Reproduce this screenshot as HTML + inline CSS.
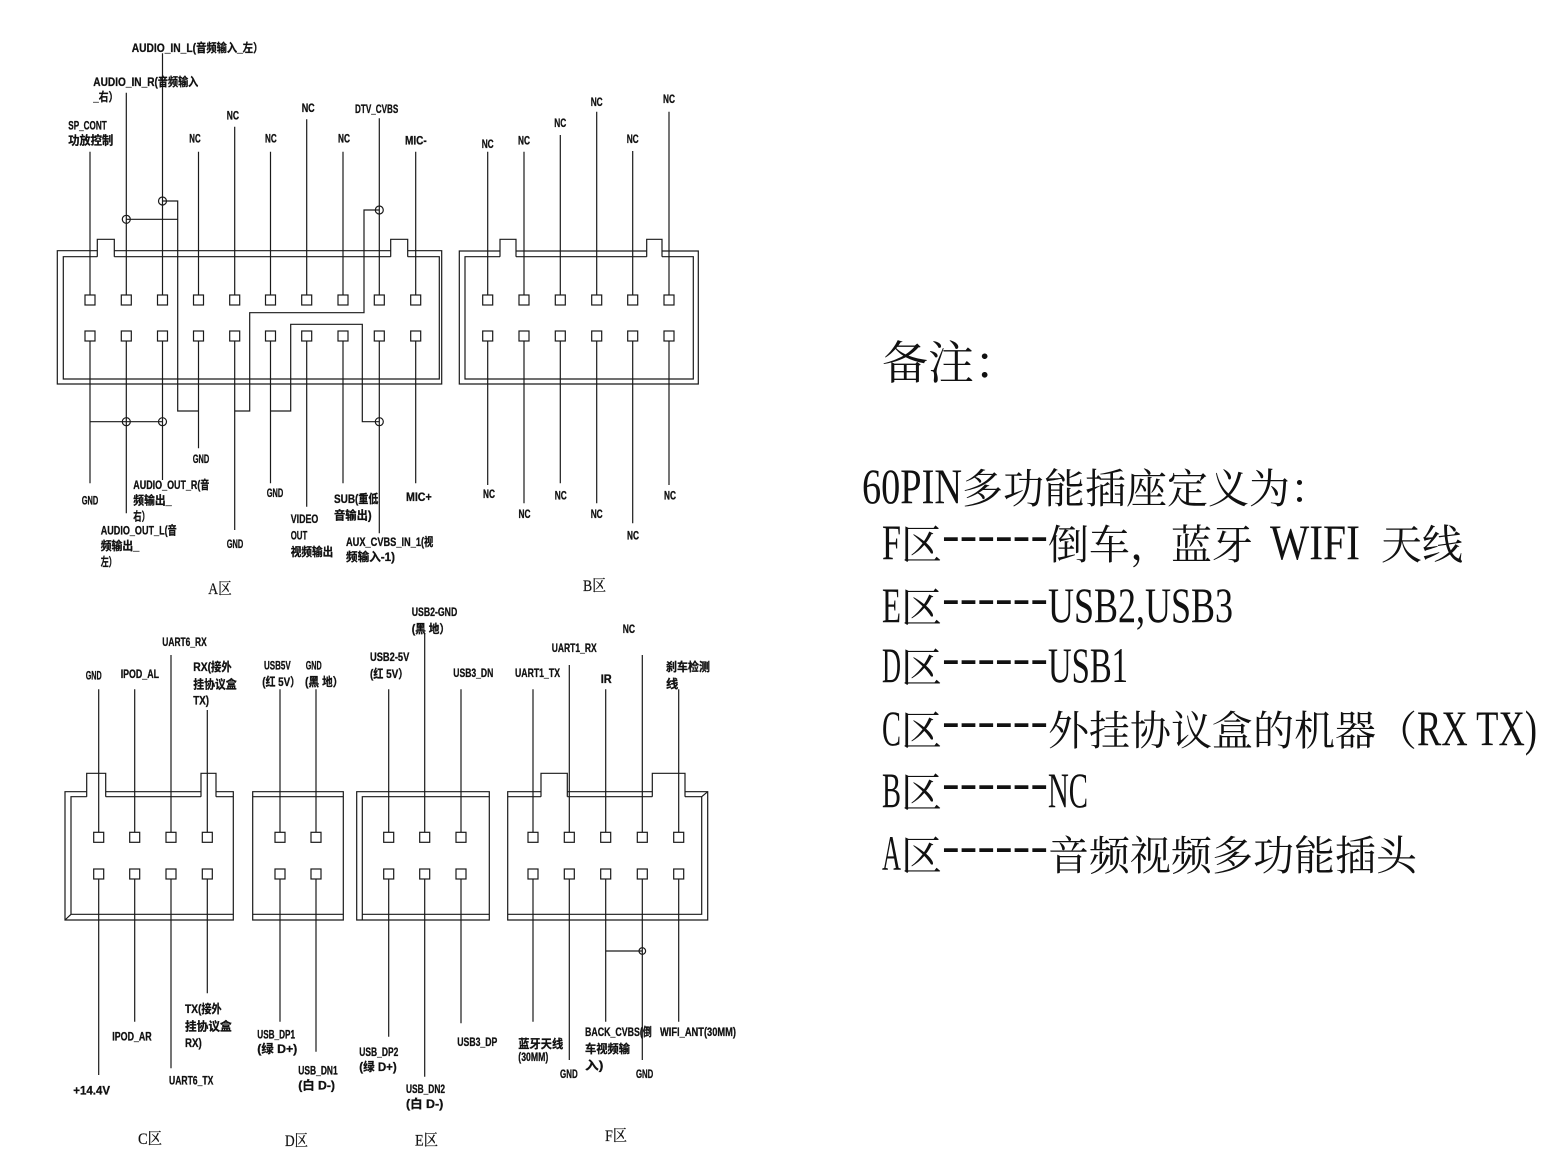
<!DOCTYPE html>
<html><head><meta charset="utf-8">
<style>
html,body{margin:0;padding:0;background:#fff;}
svg{display:block;}
.t{font-family:"Liberation Sans","Noto Sans CJK SC",sans-serif;font-weight:bold;font-size:12px;fill:#111;stroke:#111;stroke-width:0.3px;}
.z{font-family:"Liberation Serif","Noto Serif CJK SC",serif;font-size:16px;fill:#111;stroke:#111;stroke-width:0.2px;}
.c{font-family:"Noto Serif CJK SC","Liberation Serif",serif;font-size:41px;fill:#111;}
.l{font-family:"Liberation Serif","Noto Serif CJK SC",serif;font-size:50px;fill:#111;}
</style></head>
<body>
<svg width="1543" height="1157" viewBox="0 0 1543 1157" xmlns="http://www.w3.org/2000/svg">
<rect width="1543" height="1157" fill="#fff"/>
<g stroke="#1a1a1a" stroke-width="1.2" fill="none">
<!-- A box -->
<path d="M97.3,250.7 H57.3 V384 H441.7 V250.7 H407.7 M390.7,250.7 H114.3"/>
<path d="M97.3,256.7 H63.3 V379 H439.3 V256.7 H407.7 M390.7,256.7 H114.3"/>
<path d="M97.3,256.7 V239.3 H114.3 V256.7 M390.7,256.7 V239.3 H407.7 V256.7"/>
<g>
<rect x="85" y="295" width="10" height="10"/><rect x="85" y="331" width="10" height="10"/>
<rect x="121.3" y="295" width="10" height="10"/><rect x="121.3" y="331" width="10" height="10"/>
<rect x="157.5" y="295" width="10" height="10"/><rect x="157.5" y="331" width="10" height="10"/>
<rect x="193.5" y="295" width="10" height="10"/><rect x="193.5" y="331" width="10" height="10"/>
<rect x="229.7" y="295" width="10" height="10"/><rect x="229.7" y="331" width="10" height="10"/>
<rect x="265.5" y="295" width="10" height="10"/><rect x="265.5" y="331" width="10" height="10"/>
<rect x="301.7" y="295" width="10" height="10"/><rect x="301.7" y="331" width="10" height="10"/>
<rect x="338" y="295" width="10" height="10"/><rect x="338" y="331" width="10" height="10"/>
<rect x="374.3" y="295" width="10" height="10"/><rect x="374.3" y="331" width="10" height="10"/>
<rect x="410.7" y="295" width="10" height="10"/><rect x="410.7" y="331" width="10" height="10"/>
</g>
<path d="M90,151.7 V295 M126.3,92.7 V295 M162.5,53.3 V295 M198.5,151.7 V295 M234.7,126.7 V295 M270.5,151.7 V295 M306.7,119.3 V295 M343,151.7 V295 M379.3,118.3 V295 M415.7,151.7 V295"/>
<path d="M90,341 V483.3 M126.3,341 V513.3 M162.5,341 V480 M198.5,341 V448.3 M234.7,341 V530 M270.5,341 V483.3 M306.7,341 V506.7 M343,341 V483.3 M379.3,341 V533.3 M415.7,341 V483.3"/>
<path d="M162.5,201 H177.7 V411 H198.5 M126.3,219.3 H177.7"/>
<path d="M379.3,210 H364 V312.7 H249.7 V411 H234.7"/>
<path d="M270.5,411 H290.7 V324.3 H362.3 V421.7 H379.3"/>
<path d="M90,421.7 H162.5"/>
<circle cx="162.5" cy="201" r="4"/><circle cx="126.3" cy="219.3" r="4"/><circle cx="379.3" cy="210" r="4"/>
<circle cx="126.3" cy="421.7" r="4"/><circle cx="162.5" cy="421.7" r="4"/><circle cx="379.3" cy="421.7" r="4"/>

<!-- B box -->
<path d="M500,251 H459.3 V384 H698.3 V251 H662 M646.7,251 H516"/>
<path d="M500,256.7 H465 V379 H693.3 V256.7 H662 M646.7,256.7 H516"/>
<path d="M500,256.7 V239.3 H516 V256.7 M646.7,256.7 V239.3 H662 V256.7"/>
<rect x="482.7" y="295" width="10" height="10"/><rect x="482.7" y="331" width="10" height="10"/>
<rect x="519" y="295" width="10" height="10"/><rect x="519" y="331" width="10" height="10"/>
<rect x="555.3" y="295" width="10" height="10"/><rect x="555.3" y="331" width="10" height="10"/>
<rect x="591.7" y="295" width="10" height="10"/><rect x="591.7" y="331" width="10" height="10"/>
<rect x="627.7" y="295" width="10" height="10"/><rect x="627.7" y="331" width="10" height="10"/>
<rect x="664" y="295" width="10" height="10"/><rect x="664" y="331" width="10" height="10"/>
<path d="M487.7,151.7 V295 M524,151.7 V295 M560.3,135 V295 M596.7,111.7 V295 M632.7,151 V295 M669,111.7 V295"/>
<path d="M487.7,341 V485 M524,341 V503.3 M560.3,341 V483.3 M596.7,341 V503.3 M632.7,341 V523.3 M669,341 V485"/>

<!-- C box -->
<path d="M86.7,791.7 H65 V920 H233.3 V791.7 H216 M201,791.7 H105.7"/>
<path d="M86.7,796.7 H71 V914.3 H233.3 M105.7,796.7 H201 M216,796.7 H233.3 M65,920 L71,914.3"/>
<path d="M86.7,796.7 V773.3 H105.7 V796.7 M201,796.7 V773.3 H216 V796.7"/>
<rect x="93.7" y="832.3" width="10" height="10"/><rect x="93.7" y="869" width="10" height="10"/>
<rect x="129.7" y="832.3" width="10" height="10"/><rect x="129.7" y="869" width="10" height="10"/>
<rect x="166" y="832.3" width="10" height="10"/><rect x="166" y="869" width="10" height="10"/>
<rect x="202.3" y="832.3" width="10" height="10"/><rect x="202.3" y="869" width="10" height="10"/>
<path d="M98.7,689.3 V832.3 M134.7,689.3 V832.3 M171,655 V832.3 M207.3,710 V832.3"/>
<path d="M98.7,879 V1075 M134.7,879 V1021.7 M171,879 V1068.3 M207.3,879 V993.3"/>

<!-- D box -->
<path d="M252.7,791.7 H343.3 V920 H252.7 Z M252.7,796.7 H343.3 M252.7,914.3 H343.3"/>
<rect x="275" y="832.3" width="10" height="10"/><rect x="275" y="869" width="10" height="10"/>
<rect x="311" y="832.3" width="10" height="10"/><rect x="311" y="869" width="10" height="10"/>
<path d="M280,689.3 V832.3 M316,689.3 V832.3 M280,879 V1021.7 M316,879 V1051.7"/>

<!-- E box -->
<path d="M356.7,791.7 H489.3 V920 H356.7 Z M362.3,920 V796.7 H489.3 M362.3,914.3 H489.3"/>
<rect x="383.7" y="832.3" width="10" height="10"/><rect x="383.7" y="869" width="10" height="10"/>
<rect x="419.7" y="832.3" width="10" height="10"/><rect x="419.7" y="869" width="10" height="10"/>
<rect x="456" y="832.3" width="10" height="10"/><rect x="456" y="869" width="10" height="10"/>
<path d="M388.7,689.3 V832.3 M424.7,633.3 V832.3 M461,689.3 V832.3"/>
<path d="M388.7,879 V1036.7 M424.7,879 V1076.7 M461,879 V1023.3"/>

<!-- F box -->
<path d="M541,791.7 H507.7 V920 H707.7 V791.7 H685 M652.3,791.7 H567.3"/>
<path d="M507.7,796.7 H541 M567.3,796.7 H652.3 M685,796.7 H701.7 V914.3 H507.7 M701.7,796.7 L707.7,791.7"/>
<path d="M541,796.7 V773.3 H567.3 V796.7 M652.3,796.7 V773.3 H685 V796.7"/>
<rect x="528" y="832.3" width="10" height="10"/><rect x="528" y="869" width="10" height="10"/>
<rect x="564.3" y="832.3" width="10" height="10"/><rect x="564.3" y="869" width="10" height="10"/>
<rect x="600.7" y="832.3" width="10" height="10"/><rect x="600.7" y="869" width="10" height="10"/>
<rect x="637.3" y="832.3" width="10" height="10"/><rect x="637.3" y="869" width="10" height="10"/>
<rect x="673.7" y="832.3" width="10" height="10"/><rect x="673.7" y="869" width="10" height="10"/>
<path d="M533,689.3 V832.3 M569.3,665 V832.3 M605.7,689.3 V832.3 M642.3,655 V832.3 M678.7,689.3 V832.3"/>
<path d="M533,879 V1021.7 M569.3,879 V1060 M605.7,879 V1021.7 M642.3,879 V1060 M678.7,879 V1021.7"/>
<path d="M605.7,951 H642.3"/>
<circle cx="642.3" cy="951" r="3.3"/>
</g>

<g class="t">
<text x="131.7" y="51.8" textLength="131.6" lengthAdjust="spacingAndGlyphs">AUDIO_IN_L(音频输入_左）</text>
<text x="93.3" y="86.2" textLength="105" lengthAdjust="spacingAndGlyphs">AUDIO_IN_R(音频输入</text>
<text x="93.3" y="101.2" textLength="25" lengthAdjust="spacingAndGlyphs">_右）</text>
<text x="68.3" y="129.5" textLength="38.4" lengthAdjust="spacingAndGlyphs">SP_CONT</text>
<text x="68.3" y="144.5" textLength="45" lengthAdjust="spacingAndGlyphs">功放控制</text>
<text x="189.3" y="142.5" textLength="11.4" lengthAdjust="spacingAndGlyphs">NC</text>
<text x="226.7" y="119.5" textLength="12.3" lengthAdjust="spacingAndGlyphs">NC</text>
<text x="265" y="142.5" textLength="11.7" lengthAdjust="spacingAndGlyphs">NC</text>
<text x="301.7" y="111.8" textLength="13" lengthAdjust="spacingAndGlyphs">NC</text>
<text x="338" y="142.5" textLength="12" lengthAdjust="spacingAndGlyphs">NC</text>
<text x="355" y="112.8" textLength="43.3" lengthAdjust="spacingAndGlyphs">DTV_CVBS</text>
<text x="405" y="144.5" textLength="21.7" lengthAdjust="spacingAndGlyphs">MIC-</text>
<text x="81.7" y="504.5" textLength="16.6" lengthAdjust="spacingAndGlyphs">GND</text>
<text x="133.3" y="488.8" textLength="76" lengthAdjust="spacingAndGlyphs">AUDIO_OUT_R(音</text>
<text x="133.3" y="504.5" textLength="38.4" lengthAdjust="spacingAndGlyphs">频输出_</text>
<text x="133.3" y="520.5" textLength="16.7" lengthAdjust="spacingAndGlyphs">右）</text>
<text x="100.7" y="534.5" textLength="76" lengthAdjust="spacingAndGlyphs">AUDIO_OUT_L(音</text>
<text x="100.7" y="550.2" textLength="38.6" lengthAdjust="spacingAndGlyphs">频输出_</text>
<text x="100.7" y="566.2" textLength="16" lengthAdjust="spacingAndGlyphs">左）</text>
<text x="192.7" y="462.8" textLength="16.6" lengthAdjust="spacingAndGlyphs">GND</text>
<text x="226.7" y="547.8" textLength="16.6" lengthAdjust="spacingAndGlyphs">GND</text>
<text x="266.7" y="497.2" textLength="16.6" lengthAdjust="spacingAndGlyphs">GND</text>
<text x="290.7" y="522.8" textLength="27.6" lengthAdjust="spacingAndGlyphs">VIDEO</text>
<text x="290.7" y="539.5" textLength="16.6" lengthAdjust="spacingAndGlyphs">OUT</text>
<text x="290.7" y="556.2" textLength="42.6" lengthAdjust="spacingAndGlyphs">视频输出</text>
<text x="334" y="502.8" textLength="44.3" lengthAdjust="spacingAndGlyphs">SUB(重低</text>
<text x="334" y="519.5" textLength="37.7" lengthAdjust="spacingAndGlyphs">音输出)</text>
<text x="346" y="546.2" textLength="87.3" lengthAdjust="spacingAndGlyphs">AUX_CVBS_IN_1(视</text>
<text x="346" y="561.2" textLength="49" lengthAdjust="spacingAndGlyphs">频输入-1)</text>
<text x="406" y="501.2" textLength="25.7" lengthAdjust="spacingAndGlyphs">MIC+</text>
<text x="481.7" y="147.8" textLength="12" lengthAdjust="spacingAndGlyphs">NC</text>
<text x="518" y="144.5" textLength="12" lengthAdjust="spacingAndGlyphs">NC</text>
<text x="554.3" y="127.2" textLength="12" lengthAdjust="spacingAndGlyphs">NC</text>
<text x="590.7" y="106.2" textLength="12" lengthAdjust="spacingAndGlyphs">NC</text>
<text x="626.7" y="142.8" textLength="12" lengthAdjust="spacingAndGlyphs">NC</text>
<text x="663" y="102.8" textLength="12" lengthAdjust="spacingAndGlyphs">NC</text>
<text x="483" y="497.8" textLength="12" lengthAdjust="spacingAndGlyphs">NC</text>
<text x="518.5" y="517.8" textLength="12" lengthAdjust="spacingAndGlyphs">NC</text>
<text x="554.8" y="499.5" textLength="12" lengthAdjust="spacingAndGlyphs">NC</text>
<text x="590.7" y="517.8" textLength="12" lengthAdjust="spacingAndGlyphs">NC</text>
<text x="627" y="539.5" textLength="12" lengthAdjust="spacingAndGlyphs">NC</text>
<text x="664" y="499.5" textLength="12" lengthAdjust="spacingAndGlyphs">NC</text>
<text x="85.7" y="679.5" textLength="16" lengthAdjust="spacingAndGlyphs">GND</text>
<text x="120.7" y="677.8" textLength="38.3" lengthAdjust="spacingAndGlyphs">IPOD_AL</text>
<text x="162.3" y="646.2" textLength="44.4" lengthAdjust="spacingAndGlyphs">UART6_RX</text>
<text x="193.3" y="671.2" textLength="38.4" lengthAdjust="spacingAndGlyphs">RX(接外</text>
<text x="193.3" y="688.5" textLength="43.4" lengthAdjust="spacingAndGlyphs">挂协议盒</text>
<text x="193.3" y="704.5" textLength="15.7" lengthAdjust="spacingAndGlyphs">TX)</text>
<text x="73.3" y="1094.5" textLength="36.7" lengthAdjust="spacingAndGlyphs">+14.4V</text>
<text x="112.3" y="1040.5" textLength="39.4" lengthAdjust="spacingAndGlyphs">IPOD_AR</text>
<text x="169" y="1084.5" textLength="44.3" lengthAdjust="spacingAndGlyphs">UART6_TX</text>
<text x="185" y="1012.8" textLength="36.7" lengthAdjust="spacingAndGlyphs">TX(接外</text>
<text x="185" y="1030.5" textLength="46.7" lengthAdjust="spacingAndGlyphs">挂协议盒</text>
<text x="185" y="1047.2" textLength="16.7" lengthAdjust="spacingAndGlyphs">RX)</text>
<text x="264" y="669.5" textLength="26.7" lengthAdjust="spacingAndGlyphs">USB5V</text>
<text x="262.3" y="686.2" textLength="37.7" lengthAdjust="spacingAndGlyphs">(红 5V）</text>
<text x="305.7" y="669.5" textLength="16" lengthAdjust="spacingAndGlyphs">GND</text>
<text x="305" y="686.2" textLength="38.3" lengthAdjust="spacingAndGlyphs">(黑 地）</text>
<text x="257.3" y="1038.5" textLength="37.7" lengthAdjust="spacingAndGlyphs">USB_DP1</text>
<text x="257.3" y="1052.8" textLength="40" lengthAdjust="spacingAndGlyphs">(绿 D+)</text>
<text x="298.3" y="1074.5" textLength="39.4" lengthAdjust="spacingAndGlyphs">USB_DN1</text>
<text x="298.3" y="1089.5" textLength="36.7" lengthAdjust="spacingAndGlyphs">(白 D-)</text>
<text x="411.7" y="616.2" textLength="45.6" lengthAdjust="spacingAndGlyphs">USB2-GND</text>
<text x="411.7" y="632.8" textLength="38.3" lengthAdjust="spacingAndGlyphs">(黑 地）</text>
<text x="370" y="661.2" textLength="39.3" lengthAdjust="spacingAndGlyphs">USB2-5V</text>
<text x="370" y="677.8" textLength="38.3" lengthAdjust="spacingAndGlyphs">(红 5V）</text>
<text x="453.3" y="677.2" textLength="40" lengthAdjust="spacingAndGlyphs">USB3_DN</text>
<text x="359.3" y="1056.2" textLength="39" lengthAdjust="spacingAndGlyphs">USB_DP2</text>
<text x="359.3" y="1071.2" textLength="37.4" lengthAdjust="spacingAndGlyphs">(绿 D+)</text>
<text x="406" y="1092.8" textLength="39" lengthAdjust="spacingAndGlyphs">USB_DN2</text>
<text x="406" y="1107.8" textLength="37.3" lengthAdjust="spacingAndGlyphs">(白 D-)</text>
<text x="457.3" y="1046.2" textLength="40" lengthAdjust="spacingAndGlyphs">USB3_DP</text>
<text x="515" y="677.2" textLength="45" lengthAdjust="spacingAndGlyphs">UART1_TX</text>
<text x="551.7" y="652.2" textLength="45" lengthAdjust="spacingAndGlyphs">UART1_RX</text>
<text x="600.7" y="682.8" textLength="11" lengthAdjust="spacingAndGlyphs">IR</text>
<text x="622.7" y="632.8" textLength="12.3" lengthAdjust="spacingAndGlyphs">NC</text>
<text x="666" y="671.2" textLength="44" lengthAdjust="spacingAndGlyphs">刹车检测</text>
<text x="666" y="687.8" textLength="12.3" lengthAdjust="spacingAndGlyphs">线</text>
<text x="518.3" y="1047.8" textLength="45" lengthAdjust="spacingAndGlyphs">蓝牙天线</text>
<text x="518.3" y="1061.2" textLength="30" lengthAdjust="spacingAndGlyphs">(30MM)</text>
<text x="560" y="1077.8" textLength="17.7" lengthAdjust="spacingAndGlyphs">GND</text>
<text x="585" y="1036.2" textLength="66.7" lengthAdjust="spacingAndGlyphs">BACK_CVBS(倒</text>
<text x="585" y="1052.8" textLength="45" lengthAdjust="spacingAndGlyphs">车视频输</text>
<text x="585" y="1069.5" textLength="18.3" lengthAdjust="spacingAndGlyphs">入)</text>
<text x="636" y="1077.8" textLength="17.3" lengthAdjust="spacingAndGlyphs">GND</text>
<text x="660" y="1036.2" textLength="76" lengthAdjust="spacingAndGlyphs">WIFI_ANT(30MM)</text>
</g>

<g class="z">
<text x="208.3" y="594" textLength="23.4" lengthAdjust="spacingAndGlyphs">A区</text>
<text x="583" y="591" textLength="23" lengthAdjust="spacingAndGlyphs">B区</text>
<text x="138" y="1144" textLength="24" lengthAdjust="spacingAndGlyphs">C区</text>
<text x="285" y="1146" textLength="23" lengthAdjust="spacingAndGlyphs">D区</text>
<text x="415" y="1145.3" textLength="23" lengthAdjust="spacingAndGlyphs">E区</text>
<text x="605" y="1141" textLength="22" lengthAdjust="spacingAndGlyphs">F区</text>
</g>

<text class="c" x="882" y="379" style="font-size:46px">备注：</text>

<text class="l" x="862" y="503" textLength="100" lengthAdjust="spacingAndGlyphs">60PIN</text>
<text class="c" x="962" y="503">多功能插座定义为：</text>

<text class="l" x="882" y="559" textLength="19" lengthAdjust="spacingAndGlyphs">F</text>
<text class="c" x="901" y="559">区</text>
<text class="l" x="942" y="551" textLength="106" lengthAdjust="spacingAndGlyphs">------</text>
<text class="c" x="1048" y="559">倒车，蓝牙</text>
<text class="l" x="1270" y="559" textLength="90" lengthAdjust="spacingAndGlyphs">WIFI</text>
<text class="c" x="1381" y="559">天线</text>

<text class="l" x="882" y="622" textLength="19" lengthAdjust="spacingAndGlyphs">E</text>
<text class="c" x="901" y="622">区</text>
<text class="l" x="942" y="614" textLength="106" lengthAdjust="spacingAndGlyphs">------</text>
<text class="l" x="1048" y="622" textLength="185" lengthAdjust="spacingAndGlyphs">USB2,USB3</text>

<text class="l" x="882" y="682" textLength="19" lengthAdjust="spacingAndGlyphs">D</text>
<text class="c" x="901" y="682">区</text>
<text class="l" x="942" y="674" textLength="106" lengthAdjust="spacingAndGlyphs">------</text>
<text class="l" x="1048" y="682" textLength="80" lengthAdjust="spacingAndGlyphs">USB1</text>

<text class="l" x="882" y="745" textLength="19" lengthAdjust="spacingAndGlyphs">C</text>
<text class="c" x="901" y="745">区</text>
<text class="l" x="942" y="737" textLength="106" lengthAdjust="spacingAndGlyphs">------</text>
<text class="c" x="1048" y="745">外挂协议盒的机器</text>
<text class="c" x="1376" y="745">（</text>
<text class="l" x="1417" y="745" textLength="120" lengthAdjust="spacingAndGlyphs">RX TX)</text>

<text class="l" x="882" y="807" textLength="19" lengthAdjust="spacingAndGlyphs">B</text>
<text class="c" x="901" y="807">区</text>
<text class="l" x="942" y="799" textLength="106" lengthAdjust="spacingAndGlyphs">------</text>
<text class="l" x="1048" y="807" textLength="40" lengthAdjust="spacingAndGlyphs">NC</text>

<text class="l" x="882" y="870" textLength="19" lengthAdjust="spacingAndGlyphs">A</text>
<text class="c" x="901" y="870">区</text>
<text class="l" x="942" y="862" textLength="106" lengthAdjust="spacingAndGlyphs">------</text>
<text class="c" x="1048" y="870">音频视频多功能插头</text>
</svg>
</body></html>
